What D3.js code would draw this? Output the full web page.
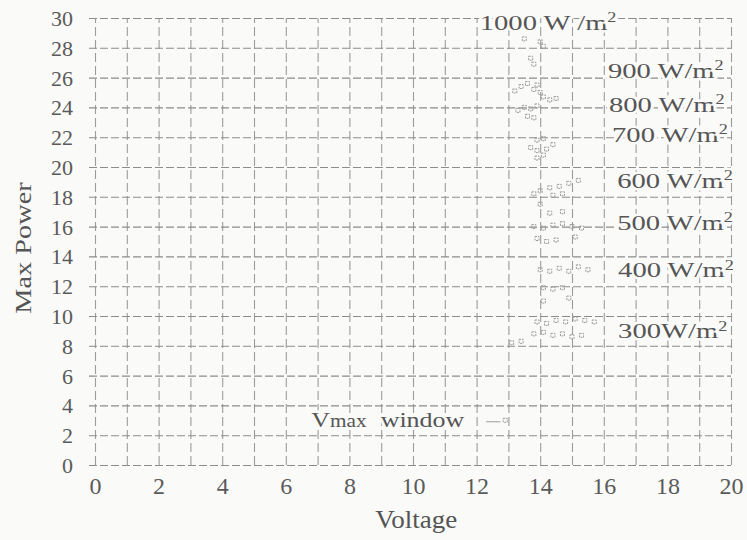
<!DOCTYPE html>
<html>
<head>
<meta charset="utf-8">
<script src="https://cdn.jsdelivr.net/npm/d3@7"></script>
<style>
  body { margin: 0; background: #fafaf8; }
  svg { display: block; font-family: "Liberation Serif", "DejaVu Serif", serif; }
  .grid line { stroke: #8c8c8c; stroke-dasharray: 8,3; stroke-width: 1.1; }
  .grid.v line { stroke: #9c9c9c; stroke-dasharray: 9,4; }
  .tick text { fill: #5a5a5a; font-family: "Liberation Serif", serif; }
  .lbl { fill: #555; font-size: 22px; paint-order: stroke; stroke: #fafaf8; stroke-width: 5px; }
</style>
</head>
<body>
<svg width="747" height="540"></svg>
<script>
// voltage / max power readings per irradiance level
const level1000 = [[13.5,28.6],[14.0,28.4],[14.1,28.1],[13.7,27.3],[13.8,26.9]];
const level900 = [[13.2,25.1],[13.4,25.4],[13.6,25.6],[13.8,25.2],[13.9,25.5],[14.0,25.0]];
const level800 = [[14.1,24.7],[14.3,24.5],[14.5,24.6],[13.3,23.8],[13.5,24.0],[13.7,23.9],[13.9,24.1],[13.6,23.4],[13.8,23.3]];
const level700 = [[13.9,21.8],[14.1,21.9],[13.7,21.3],[13.9,21.1],[14.2,21.2],[14.4,21.5],[13.9,20.6],[14.1,20.8]];
const level600 = [[13.8,18.2],[14.0,18.4],[14.3,18.6],[14.6,18.7],[14.9,18.9],[15.2,19.1],[14.4,18.1],[14.7,18.2]];
const level500 = [[14.0,17.5],[14.3,16.9],[14.7,17.0],[13.8,16.0],[14.1,15.9],[14.4,16.1],[14.7,16.2],[15.0,16.0],[15.3,15.9],[13.9,15.2],[14.2,15.0],[14.5,15.1],[15.1,15.3]];
const level400 = [[14.0,13.1],[14.3,13.0],[14.6,13.2],[14.9,13.0],[15.2,13.3],[15.5,13.1],[14.1,11.9],[14.4,11.8],[14.7,11.9],[14.1,11.0],[14.9,11.2]];
const level300 = [[13.9,9.6],[14.2,9.5],[14.5,9.7],[14.8,9.6],[15.1,9.8],[15.4,9.7],[15.7,9.6],[13.8,8.8],[14.1,8.9],[14.4,8.7],[14.7,8.8],[15.0,8.6],[15.3,8.7],[13.1,8.2],[13.4,8.3]];

const levelNames = ['1000 W /m', '900 W/m', '800 W/m', '700 W/m', '600 W/m', '500 W/m', '400 W/m', '300W/m'];
// label anchor in data units (voltage, power)
const labelAt = [[12.1,29.2],[16.13,26.0],[16.16,23.7],[16.26,21.7],[16.42,18.6],[16.42,15.8],[16.45,12.6],[16.45,8.5]];

const xTicks = d3.range(0, 21, 2);
const yTicks = d3.range(0, 31, 2);

const margin = { top: 18, right: 16, bottom: 75, left: 95 };
const width = 747 - margin.left - margin.right;
const height = 540 - margin.top - margin.bottom;
const stretch = 1.3;

const svg = d3.select('svg');
const chart = svg.append('g')
    .attr('transform', `translate(${margin.left}, ${margin.top})`);

const x = d3.scaleLinear().domain([0, 20]).range([0, width]);
const y = d3.scaleLinear().domain([0, 30]).range([height, 0]);

// grid
chart.append('g')
    .attr('class', 'grid v')
    .attr('transform', `translate(0, ${height})`)
    .call(d3.axisBottom(x).tickValues(d3.range(0, 21, 1)).tickSize(-height).tickFormat(''))
    .call(g => g.select('.domain').remove());

chart.append('g')
    .attr('class', 'grid')
    .call(d3.axisLeft(y).tickValues(yTicks).tickSize(-width).tickFormat(''))
    .call(g => g.select('.domain').remove())
    .call(g => g.selectAll('line').attr('x1', -6));

// tick labels
chart.append('g')
    .attr('transform', `translate(0, ${height})`)
    .call(d3.axisBottom(x).tickValues(xTicks).tickSize(0).tickPadding(12))
    .call(g => g.select('.domain').remove())
    .call(g => g.selectAll('text').style('font-size', '24px'));

chart.append('g')
    .call(d3.axisLeft(y).tickValues(yTicks).tickSize(0).tickPadding(22))
    .call(g => g.select('.domain').remove())
    .call(g => g.selectAll('text').attr('dy', '0.34em').style('font-size', '22px'));

// axis titles
svg.append('text')
    .attr('transform', `translate(${margin.left + x(10.1)}, 528) scale(1.08, 1)`)
    .attr('text-anchor', 'middle')
    .style('font-size', '25px').attr('fill', '#555')
    .text('Voltage');

svg.append('text')
    .attr('transform', `translate(31, 248) rotate(-90) scale(1.18, 1)`)
    .attr('text-anchor', 'middle')
    .style('font-size', '24px').attr('fill', '#555')
    .text('Max Power');

// points
const levels = [level1000, level900, level800, level700, level600, level500, level400, level300];
const points = levels.flat();

chart.append('g')
    .selectAll('rect')
    .data(points)
    .enter()
    .append('rect')
    .attr('x', d => x(d[0]) - 2)
    .attr('y', d => y(d[1]) - 2)
    .attr('width', 4)
    .attr('height', 4)
    .attr('fill', 'none')
    .attr('stroke', '#9a9a9a')
    .attr('stroke-width', 1)
    .attr('stroke-dasharray', '2,1');

// irradiance labels
const lbl = chart.append('g')
    .selectAll('text')
    .data(levelNames)
    .enter()
    .append('text')
    .attr('class', 'lbl')
    .attr('transform', (d, i) => `translate(${x(labelAt[i][0])}, ${y(labelAt[i][1])}) scale(${stretch}, 1)`);
lbl.append('tspan').text(d => d);
lbl.append('tspan').attr('dy', '-0.55em').style('font-size', '14px').text('2');

// Vmax window note
const note = chart.append('text')
    .attr('class', 'lbl')
    .attr('transform', `translate(${x(6.8)}, ${y(2.55)}) scale(1.18, 1)`);
note.append('tspan').text('V');
note.append('tspan').style('font-size', '18px').text('max');
note.append('tspan').attr('dx', 12).text('window');

chart.append('rect')
    .attr('x', x(12.9) - 2)
    .attr('y', y(3.0) - 2)
    .attr('width', 4)
    .attr('height', 4)
    .attr('fill', 'none')
    .attr('stroke', '#9a9a9a')
    .attr('stroke-dasharray', '2,1');
chart.append('line')
    .attr('x1', x(12.3)).attr('x2', x(12.75))
    .attr('y1', y(2.9)).attr('y2', y(2.9))
    .attr('stroke', '#9a9a9a');
</script>
</body>
</html>
